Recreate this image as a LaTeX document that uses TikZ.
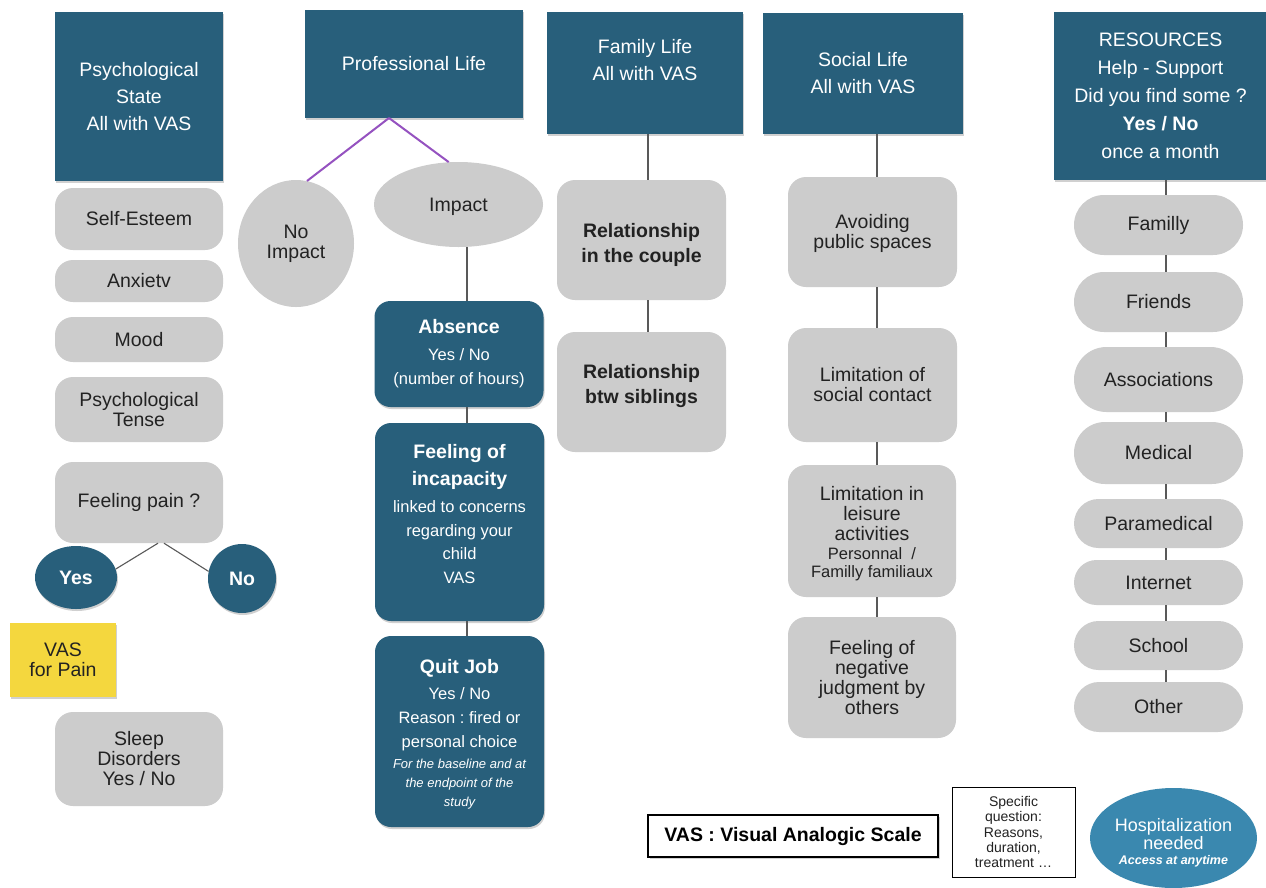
\documentclass[tikz,border=0pt]{standalone}
\usepackage{fontspec}
\setmainfont{Liberation Sans}
\usetikzlibrary{shapes.geometric,shapes.misc,shadows}
\frenchspacing
\definecolor{darkbox}{HTML}{285F7B}
\definecolor{graybox}{HTML}{CCCCCC}
\definecolor{graytext}{HTML}{222222}
\definecolor{padyellow}{HTML}{F4D73E}
\definecolor{hospblue}{HTML}{3A88AF}
\definecolor{purpline}{HTML}{9552C0}
\newcommand\fntH{\fontsize{19.5}{27}\selectfont}
\newcommand\fntG{\fontsize{19.5}{20}\selectfont}
\newcommand\fntB{\fontsize{19.5}{25}\selectfont\bfseries}
\newcommand\fntBig{\fontsize{19.5}{24}\selectfont\bfseries}
\newcommand\fntSm{\fontsize{16.5}{18}\selectfont}
\newcommand\fntI{\fontsize{13}{19}\selectfont\itshape}
\newcommand\upstrut[1]{\rule{0pt}{#1pt}}
\newcommand\dnstrut[1]{\rule[-#1pt]{0pt}{1pt}}
\tikzset{
  shad/.style={drop shadow={opacity=0.3,shadow xshift=1pt,shadow yshift=-2pt,fill=black!60}},
  hdr/.style={shad,fill=darkbox,text=white,inner sep=0pt,align=center,font=\fntH},
  dkbox/.style={shad,fill=darkbox,text=white,inner sep=0pt,align=center,rounded corners=16pt,minimum width=169pt},
  gbox/.style={fill=graybox,text=graytext,inner sep=0pt,align=center,rounded corners=18pt,font=\fntG},
  pill/.style={rounded rectangle,fill=graybox,text=graytext,inner sep=0pt,align=center,font=\fntG,minimum width=169pt},
  conn/.style={draw=black!65,line width=1.1pt},
  pconn/.style={draw=purpline,line width=2pt},
}
\begin{document}
\begin{tikzpicture}[x=1pt,y=-1pt]
\useasboundingbox[fill=white] (0,0) rectangle (1266,887);

% ---------------- column 1: psychological state
\node[hdr,minimum width=168pt,minimum height=169pt] (ps) at (139,96.5) {Psychological\\State\\All with VAS};
\node[gbox,minimum width=168pt,minimum height=62pt] (se) at (139,219) {Self-Esteem};
\node[gbox,minimum width=168pt,minimum height=42pt] (anx) at (139,281) {Anxietv};
\node[gbox,minimum width=168pt,minimum height=45pt] (mood) at (139,339.5) {Mood};
\node[gbox,minimum width=168pt,minimum height=65pt] (pt) at (139,409.5) {Psychological\\Tense};
\node[gbox,minimum width=168pt,minimum height=81pt] (fp) at (139,502.5) {Feeling pain ?};
\node[ellipse,shad,fill=darkbox,text=white,inner sep=0pt,minimum width=82pt,minimum height=63pt,font=\fntG\bfseries] (yes) at (76,577.5) {Yes};
\node[ellipse,shad,fill=darkbox,text=white,inner sep=0pt,minimum width=68pt,minimum height=69pt,font=\fntG\bfseries] (no) at (242,578.5) {No};
\node[shad,fill=padyellow,text=graytext,inner sep=0pt,minimum width=106pt,minimum height=74pt,align=center,font=\fntG] (vas) at (63,660) {VAS\\for Pain};
\node[gbox,minimum width=168pt,minimum height=94pt] (sd) at (139,759) {Sleep\\Disorders\\Yes / No};
\draw[conn] ([xshift=19pt]fp.south) -- (yes.12);
\draw[conn] ([xshift=25pt]fp.south) -- (no.168);

% ---------------- column 2: professional life
\node[hdr,minimum width=218pt,minimum height=108pt] (pl) at (414,64) {Professional Life};
\node[ellipse,fill=graybox,text=graytext,inner sep=0pt,minimum width=116pt,minimum height=127pt,align=center,font=\fntG] (noimp) at (296,243.5) {No\\Impact};
\node[ellipse,fill=graybox,text=graytext,inner sep=0pt,minimum width=169pt,minimum height=85pt,font=\fntG] (imp) at (458.5,204.5) {\upstrut{18}Impact};
\coordinate (plj) at (389,118);
\draw[pconn] (plj) -- (noimp.80);
\draw[pconn] (plj) -- (imp.103);
\node[dkbox,minimum height=106pt,font=\fontsize{16.5}{24}\selectfont] (abs) at (459,354)
  {\fntBig Absence\\[3pt]
   Yes / No\\ (number of hours)};
\node[dkbox,minimum height=198pt,font=\fontsize{16.5}{23.5}\selectfont] (fi) at (459.5,522)
  {\fntBig Feeling of\\[3.5pt] \fntBig incapacity\\[3.5pt]
   linked to concerns\\ regarding your\\ child\\ VAS\dnstrut{16}};
\node[dkbox,minimum height=191pt,font=\fontsize{16.5}{24}\selectfont] (qj) at (459.5,731.5)
  {\fntBig\upstrut{20}Quit Job\\[2pt]
   Yes / No\\ Reason : fired or\\ personal choice\\[-3pt]
   \fntI For the baseline and at\\[-5pt] \fntI the endpoint of the\\[-5pt] \fntI study};
\coordinate (pline) at (467,0);
\draw[conn] (imp.south -| pline) -- (abs.north -| pline);
\draw[conn] (abs.south -| pline) -- (fi.north -| pline);
\draw[conn] (fi.south -| pline) -- (qj.north -| pline);

% ---------------- column 3: family life
\node[hdr,minimum width=196pt,minimum height=122pt] (fl) at (645,73) {Family Life\\All with VAS\\ \mbox{}};
\node[gbox,minimum width=169pt,minimum height=120pt,font=\fntB] (rc) at (641.5,240) {\upstrut{24}Relationship\\in the couple};
\node[gbox,minimum width=169pt,minimum height=120pt,font=\fntB] (rs) at (641.5,392) {Relationship\\btw siblings\dnstrut{16}};
\coordinate (fline) at (648,0);
\draw[conn] (fl.south -| fline) -- (rc.north -| fline);
\draw[conn] (rc.south -| fline) -- (rs.north -| fline);

% ---------------- column 4: social life
\node[hdr,minimum width=200pt,minimum height=121pt] (sl) at (863,73.5) {Social Life\\All with VAS};
\node[gbox,minimum width=169pt,minimum height=110pt] (aps) at (872.5,232) {\upstrut{17}Avoiding\\public spaces};
\node[gbox,minimum width=169pt,minimum height=114pt] (lsc) at (872.5,385) {Limitation of\\social contact};
\node[gbox,minimum width=168pt,minimum height=132pt] (lla) at (872,531)
  {\upstrut{20}Limitation in\\leisure\\activities\\[-1pt]\fntSm Personnal\ \ /\\[-2pt] \fntSm Familly familiaux};
\node[gbox,minimum width=168pt,minimum height=121pt] (fnj) at (872,677.5) {Feeling of\\negative\\judgment by\\others};
\coordinate (sline) at (877,0);
\draw[conn] (sl.south -| sline) -- (aps.north -| sline);
\draw[conn] (aps.south -| sline) -- (lsc.north -| sline);
\draw[conn] (lsc.south -| sline) -- (lla.north -| sline);
\draw[conn] (lla.south -| sline) -- (fnj.north -| sline);

% ---------------- column 5: resources
\node[hdr,minimum width=213pt,minimum height=168pt,font=\fontsize{19.5}{28}\selectfont] (res) at (1160.5,96)
  {RESOURCES\\Help - Support\\Did you find some ?\\\textbf{Yes / No}\\once a month};
\node[pill,minimum height=60pt] (fam) at (1158.5,225) {Familly};
\node[pill,minimum height=60pt] (fri) at (1158.5,302) {Friends};
\node[pill,minimum height=65pt] (ass) at (1158.5,379.5) {Associations};
\node[pill,minimum height=62pt] (med) at (1158.5,453) {Medical};
\node[pill,minimum height=49pt] (para) at (1158.5,523.5) {Paramedical};
\node[pill,minimum height=45pt] (int) at (1158.5,582.5) {Internet};
\node[pill,minimum height=49pt] (sch) at (1158.5,645.5) {School};
\node[pill,minimum height=50pt] (oth) at (1158.5,707) {Other};
\coordinate (rline) at (1166,0);
\draw[conn] (res.south -| rline) -- (fam.north -| rline);
\draw[conn] (fam.south -| rline) -- (fri.north -| rline);
\draw[conn] (fri.south -| rline) -- (ass.north -| rline);
\draw[conn] (ass.south -| rline) -- (med.north -| rline);
\draw[conn] (med.south -| rline) -- (para.north -| rline);
\draw[conn] (para.south -| rline) -- (int.north -| rline);
\draw[conn] (int.south -| rline) -- (sch.north -| rline);
\draw[conn] (sch.south -| rline) -- (oth.north -| rline);

% ---------------- legend
\node[draw=black,line width=1.3pt,fill=white,inner sep=0pt,minimum width=290pt,minimum height=42pt,font=\fontsize{19.5}{22}\selectfont\bfseries,
      drop shadow={opacity=0.35,shadow xshift=1.5pt,shadow yshift=-1.5pt}] (vasleg) at (793,836) {VAS : Visual Analogic Scale};
\node[draw=black,line width=0.9pt,fill=white,inner sep=0pt,minimum width=123pt,minimum height=90pt,align=center,
      font=\fontsize{14}{15.3}\selectfont,text=graytext] (spec) at (1013.5,832)
  {Specific\\question:\\Reasons,\\duration,\\treatment …};
\node[ellipse,fill=hospblue,text=white,inner sep=-4pt,minimum width=167pt,minimum height=100pt,align=center,
      font=\fontsize{18}{18}\selectfont] (hosp) at (1173.5,838)
  {\upstrut{22.5}Hospitalization\\needed\\[-3pt]\fontsize{12.5}{14}\selectfont\bfseries\itshape Access at anytime};
\end{tikzpicture}
\end{document}
